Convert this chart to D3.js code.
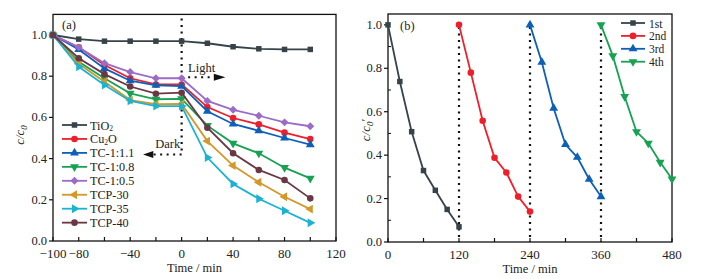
<!DOCTYPE html>
<html>
<head>
<meta charset="utf-8">
<script src="https://cdn.jsdelivr.net/npm/d3@7"></script>
<style>
  body { margin: 0; background: #fff; }
  svg text { font-family: "Liberation Serif", "Times New Roman", serif; fill: #222; }
</style>
</head>
<body>
<svg id="chart" width="711" height="279"></svg>
<script>
// ---- data, panel (a) ----
const timeA = [-100, -80, -60, -40, -20, 0, 20, 40, 60, 80, 100];
const seriesA = [
  {name: "TiO2",     color: "#36434a", marker: "square",  values: [1.0, 0.98, 0.97, 0.97, 0.97, 0.97, 0.96, 0.943, 0.933, 0.93, 0.93]},
  {name: "Cu2O",     color: "#ee1f2b", marker: "circle",  values: [1.0, 0.94, 0.854, 0.79, 0.76, 0.76, 0.65, 0.597, 0.566, 0.526, 0.495]},
  {name: "TC-1:1.1", color: "#0d60b8", marker: "up",      values: [1.0, 0.93, 0.838, 0.778, 0.756, 0.752, 0.63, 0.568, 0.535, 0.50, 0.468]},
  {name: "TC-1:0.8", color: "#17a153", marker: "down",    values: [1.0, 0.87, 0.79, 0.717, 0.688, 0.69, 0.56, 0.474, 0.426, 0.356, 0.304]},
  {name: "TC-1:0.5", color: "#9b6cc6", marker: "diamond", values: [1.0, 0.94, 0.863, 0.82, 0.79, 0.79, 0.68, 0.637, 0.608, 0.576, 0.557]},
  {name: "TCP-30",   color: "#d2992a", marker: "left",    values: [1.0, 0.86, 0.773, 0.684, 0.664, 0.665, 0.485, 0.366, 0.285, 0.215, 0.155]},
  {name: "TCP-35",   color: "#1bb3d2", marker: "right",   values: [1.0, 0.846, 0.757, 0.68, 0.655, 0.655, 0.405, 0.277, 0.205, 0.147, 0.088]},
  {name: "TCP-40",   color: "#6a3845", marker: "circle",  values: [1.0, 0.887, 0.81, 0.75, 0.715, 0.72, 0.55, 0.426, 0.345, 0.296, 0.207]}
];
const xTicksA = [-100, -80, -40, 0, 40, 80, 120];
const xMinorA = [-60, -20, 20, 60, 100];
const yTicksA = [0, 0.2, 0.4, 0.6, 0.8, 1.0];

// ---- data, panel (b) ----
const seriesB = [
  {name: "1st", color: "#36434a", marker: "square", time: [0, 20, 40, 60, 80, 100, 120],        values: [1.0, 0.739, 0.508, 0.329, 0.238, 0.15, 0.07]},
  {name: "2nd", color: "#ee1f2b", marker: "circle", time: [120, 140, 160, 180, 200, 220, 240],  values: [1.0, 0.78, 0.558, 0.388, 0.32, 0.209, 0.14]},
  {name: "3rd", color: "#0d60b8", marker: "up",     time: [240, 260, 280, 300, 320, 340, 360],  values: [1.0, 0.828, 0.616, 0.449, 0.39, 0.289, 0.209]},
  {name: "4th", color: "#17a153", marker: "down",   time: [360, 380, 400, 420, 440, 460, 480],  values: [1.0, 0.857, 0.67, 0.508, 0.455, 0.367, 0.29]}
];
const cycleEnds = [120, 240, 360];
const xTicksB = [0, 120, 240, 360, 480];
const xMinorB = [60, 180, 300, 420];
const yTicksB = [0, 0.2, 0.4, 0.6, 0.8, 1.0];

const svg = d3.select("#chart");

// marker shapes
const tri = d3.symbol().type(d3.symbolTriangle).size(34);
function drawMarker(g, type, x, y, color) {
  let p;
  if (type === "square") {
    p = g.append("path").attr("d", d3.symbol().type(d3.symbolSquare).size(30)());
  } else if (type === "circle") {
    p = g.append("path").attr("d", d3.symbol().type(d3.symbolCircle).size(34)());
  } else if (type === "diamond") {
    p = g.append("path").attr("d", d3.symbol().type(d3.symbolDiamond2).size(40)());
  } else {
    const rot = {up: 0, down: 180, left: -90, right: 90}[type];
    p = g.append("path").attr("d", tri()).attr("transform", `rotate(${rot})`);
  }
  p.attr("fill", color);
  const t = p.attr("transform") || "";
  p.attr("transform", `translate(${x},${y}) ${t}`);
}

function drawFrame(x, y, xTicks, xMinor, yTicks, yMinor) {
  const [x0, x1] = x.range(), [y0, y1] = y.range();
  const g = svg.append("g");
  g.append("rect")
    .attr("x", x0).attr("y", y1)
    .attr("width", x1 - x0).attr("height", y0 - y1)
    .attr("fill", "none").attr("stroke", "#111").attr("stroke-width", 1.3);

  // x ticks pointing inward
  g.selectAll(".xt").data(xTicks.concat(xMinor)).join("line")
    .attr("x1", d => x(d)).attr("x2", d => x(d))
    .attr("y1", y0).attr("y2", y0 - 4)
    .attr("stroke", "#111").attr("stroke-width", 1.2);
  g.selectAll(".xl").data(xTicks).join("text")
    .attr("x", d => x(d)).attr("y", y0 + 17)
    .attr("text-anchor", "middle").attr("font-size", 13)
    .text(d => d < 0 ? "\u2212" + Math.abs(d) : d);

  // y ticks pointing outward, minor inward
  g.selectAll(".yt").data(yTicks).join("line")
    .attr("x1", x0).attr("x2", x0 - 4)
    .attr("y1", d => y(d)).attr("y2", d => y(d))
    .attr("stroke", "#111").attr("stroke-width", 1.2);
  g.selectAll(".ym").data(yMinor).join("line")
    .attr("x1", x0).attr("x2", x0 + 3)
    .attr("y1", d => y(d)).attr("y2", d => y(d))
    .attr("stroke", "#111").attr("stroke-width", 1);
  g.selectAll(".yl").data(yTicks).join("text")
    .attr("x", x0 - 6).attr("y", d => y(d) + 4)
    .attr("text-anchor", "end").attr("font-size", 12.5)
    .text(d => d.toFixed(1));

  g.append("text")
    .attr("x", (x0 + x1) / 2).attr("y", y0 + 31)
    .attr("text-anchor", "middle").attr("font-size", 12.5)
    .text("Time / min");
}

function yTitle(cx, cy, prime) {
  const t = svg.append("text")
    .attr("transform", `translate(${cx},${cy}) rotate(-90)`)
    .attr("text-anchor", "middle").attr("font-size", 13)
    .attr("font-style", "italic");
  t.append("tspan").text("c/c");
  t.append("tspan").attr("font-size", 9).attr("dy", 3).text("0");
  if (prime) t.append("tspan").attr("dy", -3).attr("font-style", "normal").text("\u2032");
}

const line = (x, y) => d3.line().x(d => x(d[0])).y(d => y(d[1]));

// ================= panel (a) =================
const xA = d3.scaleLinear().domain([-100, 120]).range([53, 336]);
const yA = d3.scaleLinear().domain([0, 1.1]).range([241, 14.4]);

drawFrame(xA, yA, xTicksA, xMinorA, yTicksA, []);
yTitle(24, 135, false);

// dark / light annotations
const dot = {stroke: "#111", "stroke-width": 2.2, "stroke-dasharray": "2,4.5"};
function dotted(x1, y1, x2, y2) {
  const l = svg.append("line").attr("x1", x1).attr("y1", y1).attr("x2", x2).attr("y2", y2);
  Object.entries(dot).forEach(([k, v]) => l.attr(k, v));
}
dotted(xA(0), yA(1.08), xA(0), yA(0.42));
dotted(xA(0), yA(0.42), xA(-22), yA(0.42));
svg.append("path")
  .attr("d", `M${xA(-30)},${yA(0.42)} L${xA(-22)},${yA(0.42) - 3.5} L${xA(-22)},${yA(0.42) + 3.5}Z`)
  .attr("fill", "#111");
svg.append("text").attr("x", xA(-20.5)).attr("y", yA(0.45))
  .attr("font-size", 12.5).text("Dark");

dotted(xA(0), yA(0.795), xA(27), yA(0.795));
svg.append("path")
  .attr("d", `M${xA(34)},${yA(0.795)} L${xA(25)},${yA(0.795) - 3.5} L${xA(25)},${yA(0.795) + 3.5}Z`)
  .attr("fill", "#111");
svg.append("text").attr("x", xA(5)).attr("y", yA(0.818))
  .attr("font-size", 12.5).text("Light");

svg.append("text").attr("x", 62).attr("y", 29).attr("font-size", 12.5).text("(a)");

const lineA = line(xA, yA);
seriesA.forEach(s => {
  const pts = timeA.map((t, i) => [t, s.values[i]]);
  svg.append("path").datum(pts)
    .attr("d", lineA).attr("fill", "none")
    .attr("stroke", s.color).attr("stroke-width", 1.8);
  const g = svg.append("g");
  pts.forEach(p => drawMarker(g, s.marker, xA(p[0]), yA(p[1]), s.color));
});

// legend (a)
const legA = svg.append("g");
seriesA.forEach((s, i) => {
  const cy = 125 + i * 13.95;
  legA.append("line").attr("x1", 62).attr("x2", 87).attr("y1", cy).attr("y2", cy)
    .attr("stroke", s.color).attr("stroke-width", 1.8);
  drawMarker(legA, s.marker, 74.5, cy, s.color);
  const t = legA.append("text").attr("x", 90).attr("y", cy + 4.5).attr("font-size", 12.2);
  const m = s.name.match(/^(TiO|Cu)(2)(O?)$/);
  if (m) {
    t.append("tspan").text(m[1]);
    t.append("tspan").attr("font-size", 7.5).attr("dy", 1.5).text(m[2]);
    if (m[3]) t.append("tspan").attr("dy", -1.5).text(m[3]);
  } else {
    t.text(s.name);
  }
});

// ================= panel (b) =================
const xB = d3.scaleLinear().domain([0, 480]).range([388, 672]);
const yB = d3.scaleLinear().domain([0, 1.05]).range([242, 14]);

drawFrame(xB, yB, xTicksB, xMinorB, yTicksB, [0.1, 0.3, 0.5, 0.7, 0.9]);
yTitle(370, 130, true);

cycleEnds.forEach(c => dotted(xB(c), yB(0.99), xB(c), yB(0)));

svg.append("text").attr("x", 400).attr("y", 30).attr("font-size", 12.5).text("(b)");

const lineB = line(xB, yB);
seriesB.forEach(s => {
  const pts = s.time.map((t, i) => [t, s.values[i]]);
  svg.append("path").datum(pts)
    .attr("d", lineB).attr("fill", "none")
    .attr("stroke", s.color).attr("stroke-width", 1.8);
  const g = svg.append("g");
  pts.forEach(p => drawMarker(g, s.marker, xB(p[0]), yB(p[1]), s.color));
});

const legB = svg.append("g");
seriesB.forEach((s, i) => {
  const cy = 23 + i * 12.9;
  legB.append("line").attr("x1", 621).attr("x2", 645).attr("y1", cy).attr("y2", cy)
    .attr("stroke", s.color).attr("stroke-width", 1.8);
  drawMarker(legB, s.marker, 633, cy, s.color);
  legB.append("text").attr("x", 649).attr("y", cy + 4.5).attr("font-size", 11.5).text(s.name);
});
</script>
</body>
</html>
